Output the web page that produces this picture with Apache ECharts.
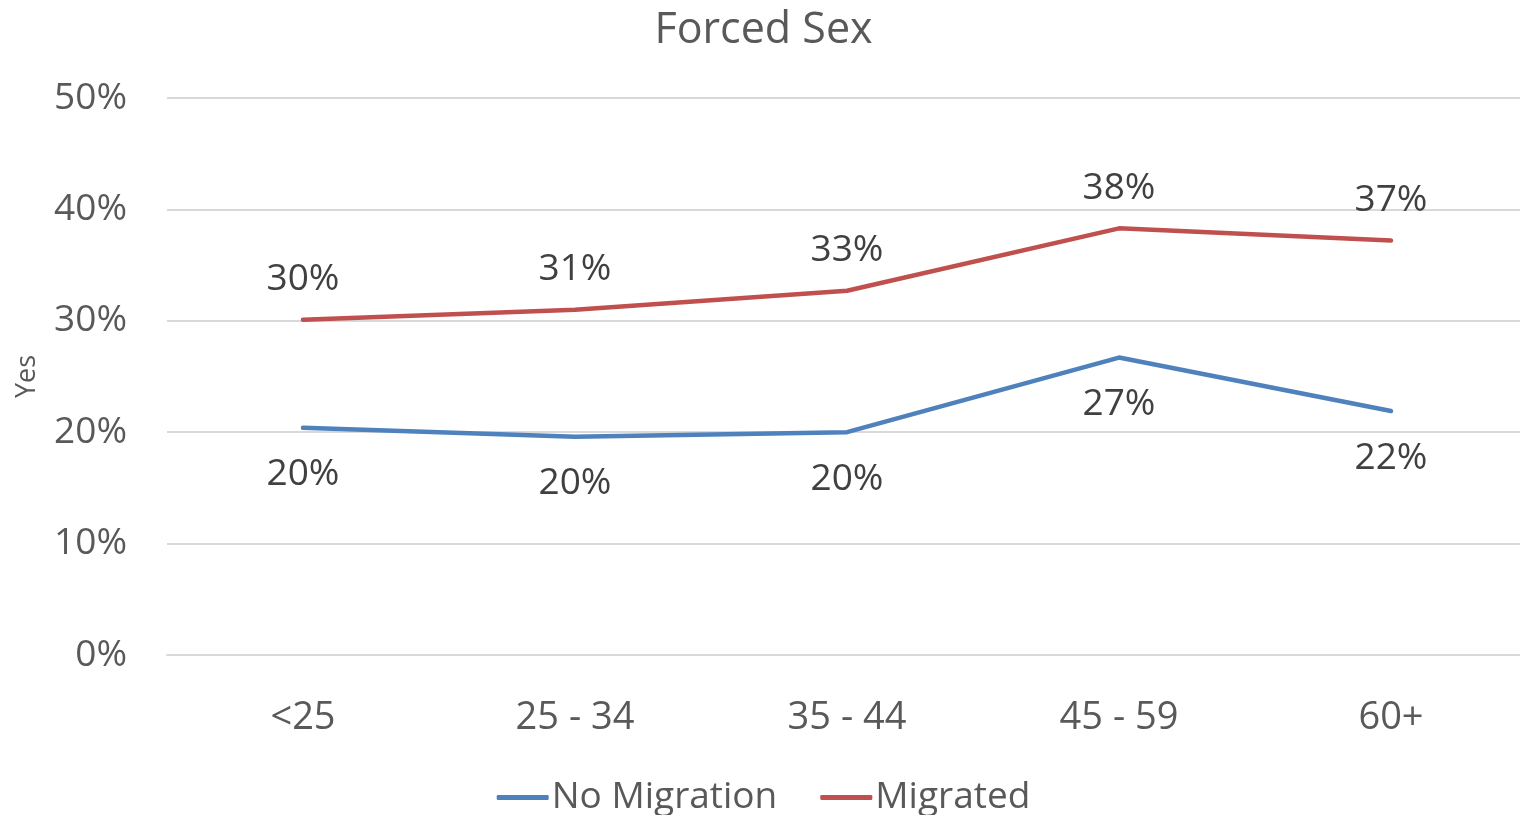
<!DOCTYPE html>
<html>
<head>
<meta charset="utf-8">
<script src="https://cdn.jsdelivr.net/npm/echarts@6/dist/echarts.min.js"></script>
<style>
  html, body { margin: 0; padding: 0; background: #fff; overflow: hidden; }
  #chart { width: 1527px; height: 815px; }
</style>
</head>
<body>
<div id="chart"></div>
<script>
// age groups
const categories = ['<25', '25 - 34', '35 - 44', '45 - 59', '60+'];
// share answering "Yes", in percent
const noMigration = [20.4, 19.6, 20.0, 26.7, 21.9];
const migrated = [30.1, 31.0, 32.7, 38.3, 37.2];
const yTicks = [0, 10, 20, 30, 40, 50];

const font = 'Open Sans';
const chart = echarts.init(document.getElementById('chart'));

chart.setOption({
  animation: false,
  title: {
    text: 'Forced Sex',
    left: 'center',
    top: 4,
    textStyle: { fontFamily: font, fontSize: 43, fontWeight: 'normal', color: '#595959' }
  },
  legend: {
    top: 774,
    left: 'center',
    itemWidth: 52,
    itemHeight: 5,
    itemGap: 43,
    icon: 'roundRect',
    textStyle: { fontFamily: font, fontSize: 37, color: '#595959', padding: [0, 0, 0, -2] },
    data: ['No Migration', 'Migrated']
  },
  grid: { left: 167, right: 0, top: 98, bottom: 160 },
  xAxis: {
    type: 'category',
    data: categories,
    boundaryGap: true,
    axisLine: { lineStyle: { color: '#D9D9D9', width: 2 } },
    axisTick: { show: false },
    axisLabel: { fontFamily: font, fontSize: 38, color: '#595959', margin: 44 }
  },
  yAxis: {
    type: 'value',
    min: yTicks[0],
    max: yTicks[yTicks.length - 1],
    interval: 10,
    name: 'Yes',
    nameLocation: 'middle',
    nameGap: 126,
    nameTextStyle: { fontFamily: font, fontSize: 27, color: '#595959' },
    axisLine: { show: false },
    axisTick: { show: false },
    splitLine: { lineStyle: { color: '#D9D9D9', width: 2 } },
    axisLabel: { fontFamily: font, fontSize: 37, color: '#595959', margin: 40, formatter: '{value}%' }
  },
  series: [
    {
      name: 'No Migration',
      type: 'line',
      data: noMigration,
      symbol: 'circle',
      symbolSize: 1,
      color: '#4F81BD',
      lineStyle: { width: 4.5, cap: 'round', join: 'round' },
      label: {
        show: true,
        position: 'bottom',
        distance: 28,
        fontFamily: font,
        fontSize: 37,
        color: '#404040',
        formatter: p => Math.round(p.value) + '%'
      }
    },
    {
      name: 'Migrated',
      type: 'line',
      data: migrated,
      symbol: 'circle',
      symbolSize: 1,
      color: '#C0504D',
      lineStyle: { width: 4.5, cap: 'round', join: 'round' },
      label: {
        show: true,
        position: 'top',
        distance: 21,
        fontFamily: font,
        fontSize: 37,
        color: '#404040',
        formatter: p => Math.round(p.value) + '%'
      }
    }
  ]
});
</script>
</body>
</html>
